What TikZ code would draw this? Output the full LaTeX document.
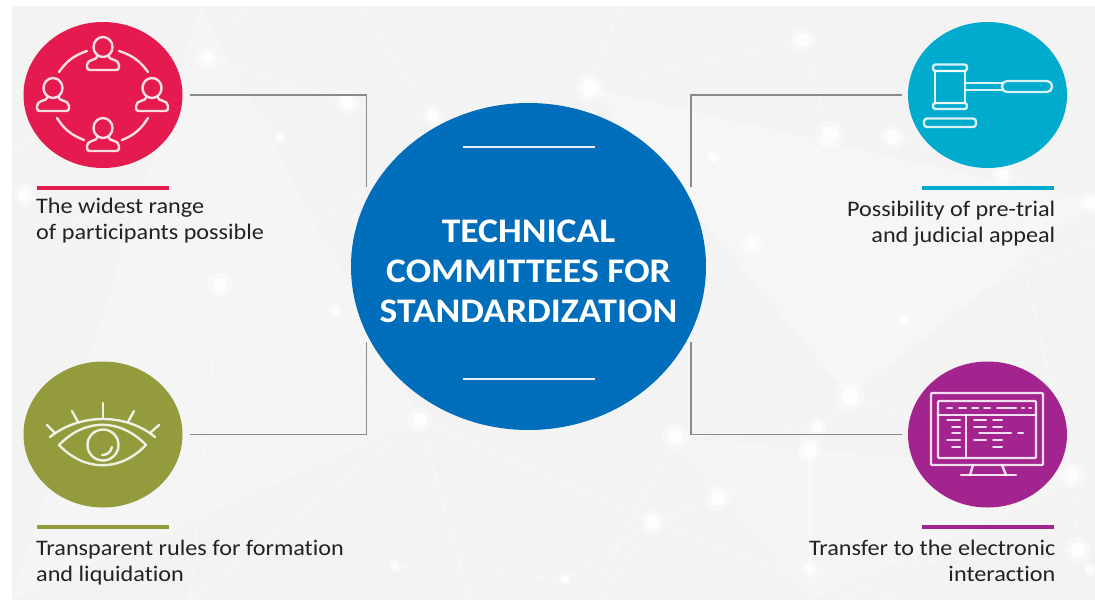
\documentclass[tikz,border=0pt]{standalone}
\usepackage{fontspec}
\setmainfont[FakeStretch=1.09, Ligatures=NoCommon]{Carlito}
\usetikzlibrary{shapes.geometric, positioning, calc}

\definecolor{panelgray}{HTML}{F3F3F3}
\definecolor{linkgray}{HTML}{8A8A8A}
\definecolor{textdark}{HTML}{222222}
\definecolor{hubblue}{HTML}{006EBB}
\definecolor{rosered}{HTML}{E51B50}
\definecolor{olivegreen}{HTML}{939B3C}
\definecolor{lakecyan}{HTML}{00ABCD}
\definecolor{plumpurple}{HTML}{A4248F}

\begin{document}
\begin{tikzpicture}[
    x=1pt, y=-1pt,
    disc/.style={ellipse, inner sep=0pt, minimum width=159pt, minimum height=146pt},
    hub/.style={ellipse, inner sep=0pt, fill=hubblue, minimum width=355pt, minimum height=327pt},
    caption/.style={font=\fontsize{22.2}{26}\selectfont, text=textdark, inner sep=0pt},
    colorbar/.style={line width=3.5pt},
    linkline/.style={draw=linkgray, line width=1.8pt},
    icon/.style={draw=white, draw opacity=0.85, line width=2.4pt, line cap=round, line join=round},
    netline/.style={draw=white, line width=1.2pt, opacity=0.4}
]
\useasboundingbox (0,0) rectangle (1095,611);

% Panel behind everything
\fill[panelgray] (12,6) rectangle (1095,600);

% Faint network in the background
\fill[white, opacity=0.2] (200,6) -- (420,420) -- (12,600) -- cycle;
\fill[white, opacity=0.25] (590,88) -- (1095,203) -- (850,397) -- cycle;
\fill[white, opacity=0.2] (675,437) -- (1095,475) -- (810,600) -- cycle;
\foreach \px/\py/\qx/\qy in {207/57/280/137, 207/57/347/102, 207/57/250/6, 207/57/12/150, 280/137/220/285,
    25/195/220/285, 220/285/335/310, 335/310/420/420, 220/285/420/420, 220/285/190/600, 220/285/366/190,
    420/420/653/522, 420/420/190/600, 420/420/470/600, 590/88/433/116, 433/116/347/102, 433/116/360/6,
    590/88/620/6, 590/88/720/130,
    803/40/830/135, 830/135/893/137, 830/135/713/157, 713/157/752/243, 893/137/1003/175, 1003/175/1090/203,
    830/135/752/243, 803/40/590/88, 850/397/817/427, 817/427/810/450, 810/450/718/498, 718/498/675/437,
    718/498/653/522, 850/397/1072/475, 1072/475/1078/550, 1078/550/1090/570, 810/450/810/570, 810/570/1078/550,
    675/437/817/427, 1003/175/1072/475, 752/243/850/397, 653/522/600/600, 810/570/900/600,
    653/522/565/579, 565/579/395/566, 675/437/600/579, 653/522/860/600, 904/320/850/397, 904/320/1095/240}{
    \draw[netline] (\px,\py) -- (\qx,\qy);
}
\foreach \px/\py/\dsize in {207/57/15, 280/137/9, 347/102/17, 25/195/16, 220/285/17, 335/310/9, 420/420/17,
    590/88/20, 433/116/14, 803/40/17, 830/135/20, 893/137/17, 713/157/9, 752/243/17, 1003/175/15, 1090/203/15,
    850/397/20, 817/427/13, 810/450/17, 718/498/18, 675/437/18, 653/522/17, 1072/475/18, 1078/550/18, 1090/570/9,
    810/570/11, 395/566/9, 565/579/9, 904/320/9}{
    \fill[white, opacity=0.35] (\px,\py) circle ({0.72*\dsize});
    \fill[white, opacity=0.8] (\px,\py) circle ({0.42*\dsize});
}

% Central circle
\node[hub] (hub_circle) at (528.5,266.5) {};
\node[font=\fontsize{34.5}{40}\selectfont\bfseries, text=white, align=center, inner sep=0pt] (hub_title) at (528.5,271) {TECHNICAL\\COMMITTEES FOR\\STANDARDIZATION};
\coordinate (hub_top_a) at (463,147);
\coordinate (hub_top_b) at (595,147);
\coordinate (hub_bot_a) at (463,379);
\coordinate (hub_bot_b) at (595,379);
\draw[white, opacity=0.9, line width=2.5pt] (hub_top_a) -- (hub_top_b);
\draw[white, opacity=0.9, line width=2.5pt] (hub_bot_a) -- (hub_bot_b);

% Four coloured circles
\node[disc, fill=rosered] (red_disc) at (103,95) {};
\node[disc, fill=olivegreen] (green_disc) at (103,434.5) {};
\node[disc, fill=lakecyan] (cyan_disc) at (987.5,95) {};
\node[disc, fill=plumpurple] (purple_disc) at (987.5,434.5) {};

% Connectors to the central circle
\coordinate (hub_nw) at (366.5,187);
\coordinate (hub_sw) at (366.5,342);
\coordinate (hub_ne) at (691,187);
\coordinate (hub_se) at (691,342);
\draw[linkline] ([xshift=7pt]red_disc.east) -| (hub_nw);
\draw[linkline] ([xshift=7pt]green_disc.east) -| (hub_sw);
\draw[linkline] ([xshift=-6pt]cyan_disc.west) -| (hub_ne);
\draw[linkline] ([xshift=-6pt]purple_disc.west) -| (hub_se);

% Bars under the circles
\coordinate (red_bar_a) at (36.5,188);
\coordinate (red_bar_b) at (169,188);
\coordinate (green_bar_a) at (36.5,527);
\coordinate (green_bar_b) at (169,527);
\coordinate (cyan_bar_a) at (922,188);
\coordinate (cyan_bar_b) at (1054,188);
\coordinate (purple_bar_a) at (922,527);
\coordinate (purple_bar_b) at (1054,527);
\draw[colorbar, rosered] (red_bar_a) -- (red_bar_b);
\draw[colorbar, olivegreen] (green_bar_a) -- (green_bar_b);
\draw[colorbar, lakecyan] (cyan_bar_a) -- (cyan_bar_b);
\draw[colorbar, plumpurple] (purple_bar_a) -- (purple_bar_b);

% Captions
\node[caption, align=left, anchor=north west] (red_text) at (36,198) {The widest range\\of participants possible};
\node[caption, align=left, anchor=north west] (green_text) at (36,539.5) {Transparent rules for formation\\and liquidation};
\node[caption, align=right, anchor=north east] (cyan_text) at (1055.5,201) {Possibility of pre-trial\\and judicial appeal};
\node[caption, align=right, anchor=north east] (purple_text) at (1055.5,539.5) {Transfer to the electronic\\interaction};

% People icon
\foreach \hx/\hy in {103/47, 53/88, 152/88, 103/128}{
    \draw[icon] (\hx,\hy) ellipse (9.5 and 10);
    \draw[icon] (\hx-6,\hy+9) -- (\hx-6,\hy+10) .. controls (\hx-6,\hy+13) and (\hx-16,\hy+12) .. (\hx-16,\hy+18)
        -- (\hx-16,\hy+20) .. controls (\hx-16,\hy+22) and (\hx-15,\hy+23) .. (\hx-13,\hy+23) -- (\hx+13,\hy+23)
        .. controls (\hx+15,\hy+23) and (\hx+16,\hy+22) .. (\hx+16,\hy+20) -- (\hx+16,\hy+18)
        .. controls (\hx+16,\hy+12) and (\hx+6,\hy+13) .. (\hx+6,\hy+10) -- (\hx+6,\hy+9);
}
\draw[icon] (59,72) to[bend left=18] (87,51);
\draw[icon] (119,51) to[bend left=18] (148,72);
\draw[icon] (57,118) to[bend right=18] (84,140);
\draw[icon] (122,140) to[bend right=18] (148,118);

% Eye icon
\draw[icon] (50,437) .. controls (80,413) and (126,413) .. (155,437);
\draw[icon] (59,445) .. controls (85,418) and (120,418) .. (146,445) .. controls (120,472) and (85,472) .. (59,445) -- cycle;
\draw[icon] (103,445) circle (15.5);
\draw[icon] (102,455) .. controls (107,455) and (111,452) .. (112,447);
\foreach \ax/\ay/\bx/\by in {103/403/103/418, 72/411/78/422, 134/411/128/422, 47/425/55/433, 159/425/150/433}{
    \draw[icon] (\ax,\ay) -- (\bx,\by);
}

% Gavel icon
\draw[icon] (935,71) rectangle (965,103);
\draw[icon, rounded corners=2.5pt] (933,64.5) rectangle (967,71);
\draw[icon, rounded corners=2.5pt] (933,103) rectangle (967,109);
\draw[icon] (965,83) -- (1002,83);
\draw[icon] (965,90) -- (1002,90);
\draw[icon, rounded corners=5pt] (1002,81) -- (1052,81) -- (1052,92) -- (1002,92) -- cycle;
\draw[icon, rounded corners=3pt] (924,118.5) rectangle (976,127);

% Monitor icon
\draw[icon, rounded corners=1pt] (931,393) rectangle (1043,465);
\draw[icon, rounded corners=1pt] (938,401) rectangle (1036,458);
\draw[icon] (938,415) -- (1036,415);
\draw[icon] (966,415) -- (966,458);
\draw[icon] (973,465) -- (970,475);
\draw[icon] (1002,465) -- (1006,475);
\draw[icon] (961,475) -- (1016,475);
\foreach \ax/\bx/\ly in {947/952/408, 959/966/408, 972/978/408, 984/990/408, 997/1016/408, 1022/1024/408, 1029/1031/408,
    947/960/420, 952/960/427, 952/960/433, 947/960/440, 952/960/447,
    974/986/420, 993/1002/420, 974/986/427, 993/1002/427, 979/1011/433, 1018/1023/433,
    974/986/440, 993/1002/440, 993/1002/447}{
    \draw[icon, line width=2pt] (\ax,\ly) -- (\bx,\ly);
}

\end{tikzpicture}
\end{document}
